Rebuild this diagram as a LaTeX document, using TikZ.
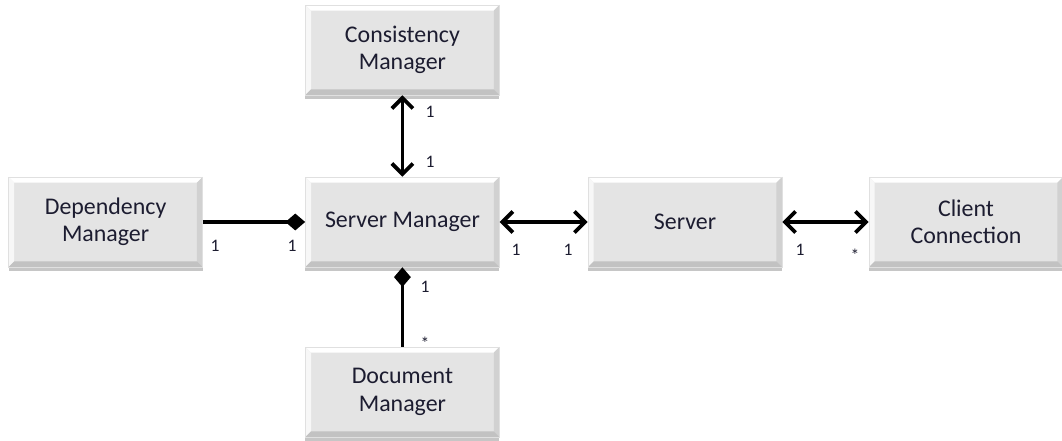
\documentclass[tikz,border=0pt]{standalone}
\usepackage{fontspec}
\setmainfont{Carlito}
\usetikzlibrary{arrows.meta,shadows}

\definecolor{boxgray}{RGB}{228,228,228}
\definecolor{boxtext}{RGB}{28,28,48}

% raised edges of a block
\newcommand{\bevelpic}{%
  \path (path picture bounding box.north west) coordinate (nw)
        (path picture bounding box.north east) coordinate (ne)
        (path picture bounding box.south west) coordinate (sw)
        (path picture bounding box.south east) coordinate (se);
  \fill[white] (nw) -- (ne) -- ([shift={(-4pt,-4pt)}]ne) -- ([shift={(4pt,-4pt)}]nw) -- cycle;
  \fill[white!70!boxgray] (nw) -- (sw) -- ([shift={(4pt,4pt)}]sw) -- ([shift={(4pt,-4pt)}]nw) -- cycle;
  \fill[black!18] (ne) -- (se) -- ([shift={(-4pt,4pt)}]se) -- ([shift={(-4pt,-4pt)}]ne) -- cycle;
  \fill[black!24] (sw) -- (se) -- ([shift={(-4pt,4pt)}]se) -- ([shift={(4pt,4pt)}]sw) -- cycle;}

\begin{document}
\begin{tikzpicture}[
    block/.style={minimum width=4.85cm, minimum height=2.25cm, fill=boxgray, draw=black!12,
                  align=center, text=boxtext, font=\fontsize{17}{19.5}\selectfont,
                  drop shadow={shadow xshift=0pt, shadow yshift=-2.5pt, opacity=0.45},
                  path picture={\bevelpic}},
    mult/.style={text=boxtext, font=\fontsize{12.5}{14}\selectfont},
    link/.style={line width=2.7pt, line cap=butt},
    both/.style={link, {Straight Barb[length=7.5pt,width=15pt]}-{Straight Barb[length=7.5pt,width=15pt]}},
    whole/.style={link, -{Diamond[length=14pt,width=12pt]}}]
  \useasboundingbox (0,0) rectangle (26.55,11.025);

  \node[block] (cons)   at (10.06,9.775) {Consistency\\Manager};
  \node[block] (srvmgr) at (10.06,5.475) {Server Manager};
  \node[block] (depmgr) at (2.64,5.475)  {Dependency\\Manager};
  \node[block] (server) at (17.125,5.475) {Server};
  \node[block] (client) at (24.15,5.475) {Client\\Connection};
  \node[block] (docmgr) at (10.06,1.225) {Document\\Manager};

  \draw[both]  (cons.south) -- (srvmgr.north);
  \draw[whole] (depmgr.east) -- (srvmgr.west);
  \draw[both]  (srvmgr.east) -- (server.west);
  \draw[both]  (server.east) -- (client.west);
  \draw[whole] (docmgr.north) -- (srvmgr.south);

  \node[mult] (m1) at (10.75,8.225) {1};
  \node[mult] (m2) at (10.75,6.975) {1};
  \node[mult] (m3) at (5.375,4.875) {1};
  \node[mult] (m4) at (7.3,4.875)   {1};
  \node[mult] (m5) at (12.9,4.775)  {1};
  \node[mult] (m6) at (14.2,4.775)  {1};
  \node[mult] (m7) at (20.0,4.775)  {1};
  \node[mult] (m8) at (21.375,4.65) {*};
  \node[mult] (m9) at (10.625,3.85) {1};
  \node[mult] (m10) at (10.625,2.45) {*};
\end{tikzpicture}
\end{document}
